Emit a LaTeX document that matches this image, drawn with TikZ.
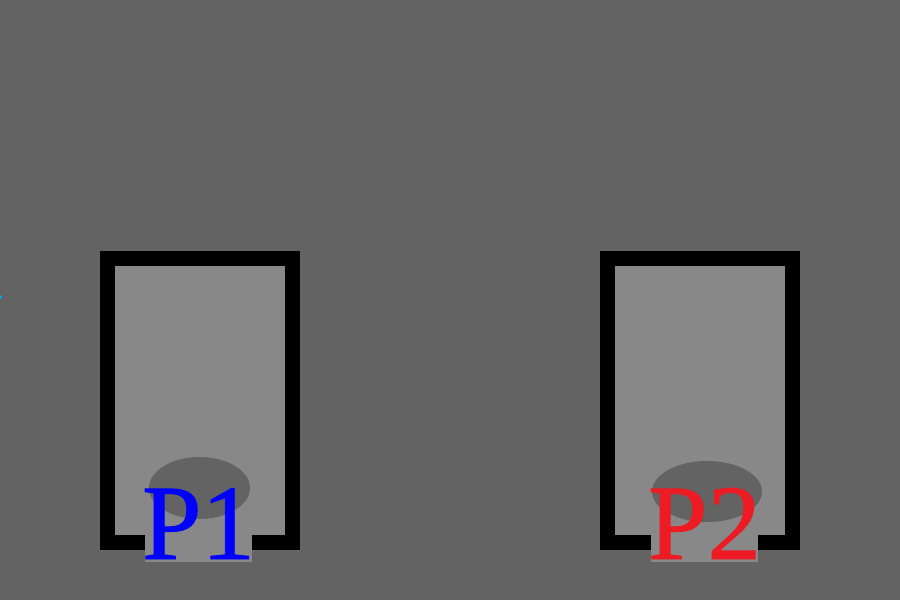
\documentclass[tikz,border=0pt]{standalone}
\usepackage{fontspec}
\newfontfamily\pfont{Liberation Serif}[FakeBold=0.9]
\definecolor{bg}{HTML}{636363}
\definecolor{lite}{HTML}{888888}
\definecolor{pred}{HTML}{ED1C24}
\definecolor{pblue}{HTML}{0000FF}
\definecolor{dotc}{HTML}{0FA0E6}
\begin{document}
\begin{tikzpicture}[x=1pt,y=-1pt,
  panel/.style={draw=black,line width=15pt,fill=lite},
  spot/.style={fill=bg,draw=none},
  plabel/.style={fill=lite,inner ysep=0pt,inner xsep=-3pt,text height=25pt,text depth=3pt,anchor=base,font=\pfont\fontsize{107}{107}\selectfont}]
\fill[bg] (0,0) rectangle (900,600);
\useasboundingbox (0,0) rectangle (900,600);
\node[circle,fill=dotc,inner sep=0pt,minimum size=4pt] (dot) at (0,297) {};
\draw[panel] (107.5,258.5) rectangle (292.5,542.5);
\draw[panel] (607.5,258.5) rectangle (792.5,542.5);
\fill[spot] (199.5,488) ellipse [x radius=50.5,y radius=31];
\fill[spot] (707,491.5) ellipse [x radius=55,y radius=30.5];
\node[plabel,text=pblue] (p1) at (198.5,559) {P1};
\node[plabel,text=pred] (p2) at (704.5,559) {P2};
\end{tikzpicture}
\end{document}
